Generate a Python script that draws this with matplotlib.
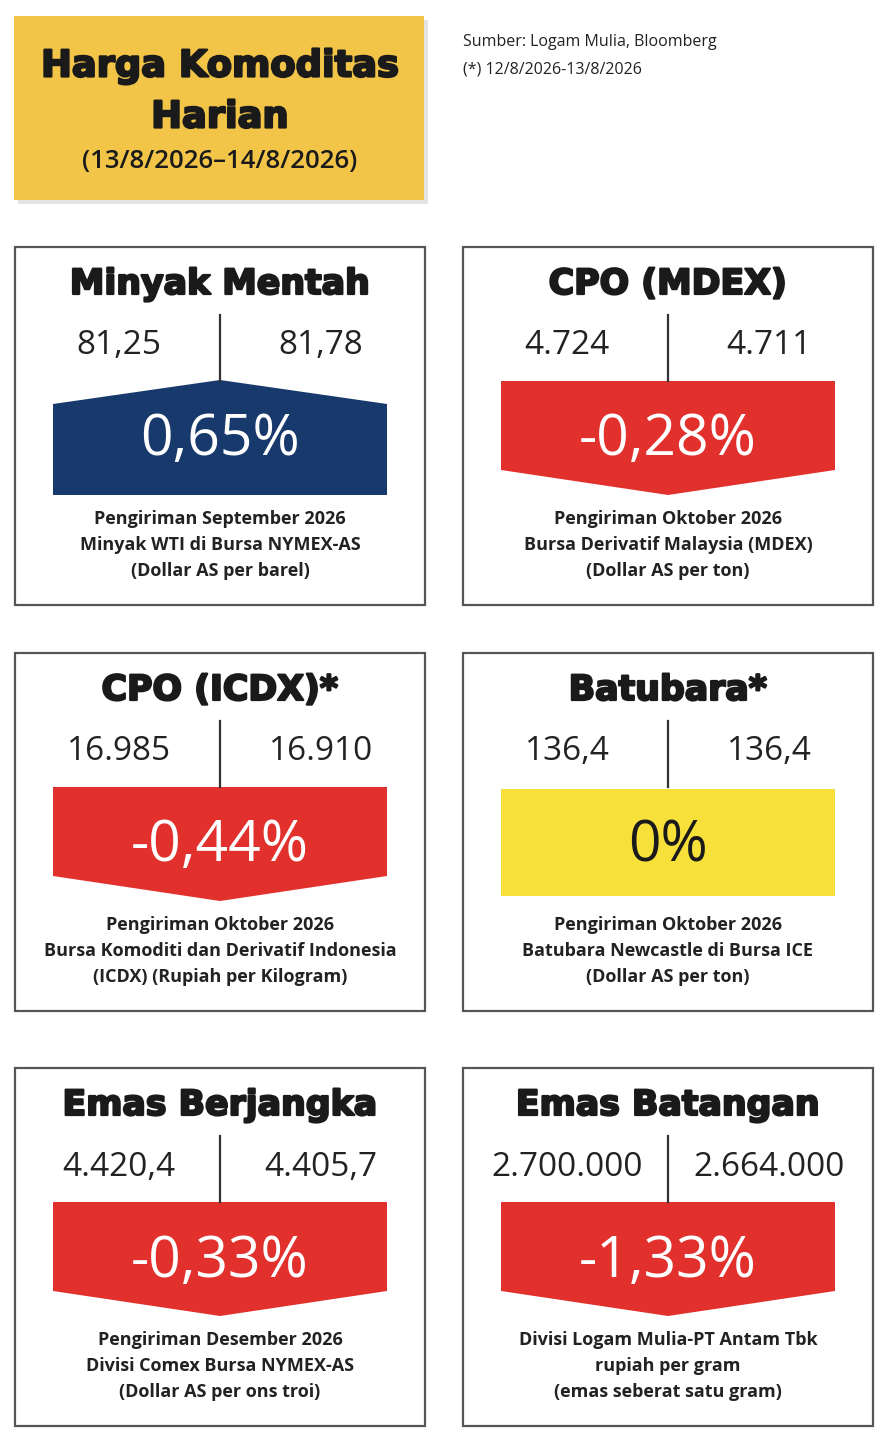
import matplotlib
matplotlib.use("Agg")
import matplotlib.pyplot as plt
import matplotlib.patches as mpatches
import matplotlib.patheffects as pe

# ===== data =====
names = ["Minyak Mentah", "CPO (MDEX)", "CPO (ICDX)*",
         "Batubara*", "Emas Berjangka", "Emas Batangan"]
prev_prices = [81.25, 4724, 16985, 136.4, 4420.4, 2700000]
last_prices = [81.78, 4711, 16910, 136.4, 4405.7, 2664000]
price_decimals = [2, 0, 0, 1, 1, 0]
change_pct = [0.65, -0.28, -0.44, 0.0, -0.33, -1.33]
notes = [
    "Pengiriman September 2026\nMinyak WTI di Bursa NYMEX-AS\n(Dollar AS per barel)",
    "Pengiriman Oktober 2026\nBursa Derivatif Malaysia (MDEX)\n(Dollar AS per ton)",
    "Pengiriman Oktober 2026\nBursa Komoditi dan Derivatif Indonesia\n(ICDX) (Rupiah per Kilogram)",
    "Pengiriman Oktober 2026\nBatubara Newcastle di Bursa ICE\n(Dollar AS per ton)",
    "Pengiriman Desember 2026\nDivisi Comex Bursa NYMEX-AS\n(Dollar AS per ons troi)",
    "Divisi Logam Mulia-PT Antam Tbk\nrupiah per gram\n(emas seberat satu gram)",
]
title_lines = ["Harga Komoditas", "Harian", "(13/8/2026\u201314/8/2026)"]
source_lines = ["Sumber: Logam Mulia, Bloomberg", "(*) 12/8/2026-13/8/2026"]

# ===== style =====
NAVY = "#17396b"
RED = "#e2302d"
YELLOW = "#f8e03a"
GOLD = "#f2c548"
INK = "#1a1a1a"
HEAVY = ["DejaVu Sans"]
PLAIN = ["Open Sans", "DejaVu Sans"]
thick = [pe.withStroke(linewidth=1.6, foreground=INK)]

W, H = 886, 1444
col_x = [15, 463]
row_y = [247, 653, 1068]
box_w, box_h = 410, 358


def fmt_id(v, d):
    s = f"{v:,.{d}f}"
    return s.replace(",", "#").replace(".", ",").replace("#", ".")


def fmt_pct(v):
    if v == 0:
        return "0%"
    return f"{v:.2f}".replace(".", ",") + "%"


fig = plt.figure(figsize=(W / 100, H / 100), dpi=100)
ax = fig.add_axes([0, 0, 1, 1])
ax.set_xlim(0, W)
ax.set_ylim(H, 0)
ax.axis("off")

# --- header box ---
ax.add_patch(mpatches.Rectangle((18, 20), 410, 184, facecolor="#c8c8c8",
                                edgecolor="none", alpha=0.5, zorder=1))
ax.add_patch(mpatches.Rectangle((14, 16), 410, 184, facecolor=GOLD,
                                edgecolor="none", zorder=2))
for k, yy in enumerate([66, 117]):
    ax.text(220, yy, title_lines[k], ha="center", va="center", fontsize=26.5,
            fontweight="bold", family=HEAVY, color=INK, zorder=3,
            path_effects=thick)
ax.text(220, 161, title_lines[2], ha="center", va="center", fontsize=18.5,
        fontweight="semibold", family=PLAIN, color=INK, zorder=3)
for i, line in enumerate(source_lines):
    ax.text(463, 42 + i * 27, line, ha="left", va="center", fontsize=11.5,
            family=PLAIN, color="#222222")

# --- panels ---
for i, name in enumerate(names):
    x0 = col_x[i % 2]
    y0 = row_y[i // 2]
    cx = x0 + box_w / 2
    ax.add_patch(mpatches.Rectangle((x0, y0), box_w, box_h, facecolor="white",
                                    edgecolor="#555555", linewidth=1.6))
    ax.text(cx, y0 + 37, name, ha="center", va="center", fontsize=25,
            fontweight="bold", family=HEAVY, color=INK, path_effects=thick)
    ax.text(cx - 101, y0 + 99, fmt_id(prev_prices[i], price_decimals[i]),
            ha="center", va="center", fontsize=24, family=PLAIN, color="#222222")
    ax.text(cx + 101, y0 + 99, fmt_id(last_prices[i], price_decimals[i]),
            ha="center", va="center", fontsize=24, family=PLAIN, color="#222222")
    ax.plot([cx, cx], [y0 + 68, y0 + 134], color="#333333", linewidth=1.6)

    left, right = cx - 167, cx + 167
    chg = change_pct[i]
    if chg > 0:
        pts = [(left, y0 + 157), (cx, y0 + 133), (right, y0 + 157),
               (right, y0 + 248), (left, y0 + 248)]
        fc, tc = NAVY, "white"
    elif chg < 0:
        pts = [(left, y0 + 134), (right, y0 + 134), (right, y0 + 223),
               (cx, y0 + 248), (left, y0 + 223)]
        fc, tc = RED, "white"
    else:
        pts = [(left, y0 + 136), (right, y0 + 136), (right, y0 + 243),
               (left, y0 + 243)]
        fc, tc = YELLOW, INK
    ax.add_patch(mpatches.Polygon(pts, closed=True, facecolor=fc,
                                  edgecolor="none"))
    ax.text(cx, y0 + 194, fmt_pct(chg), ha="center", va="center",
            fontsize=41, family=PLAIN, color=tc)

    for j, line in enumerate(notes[i].split("\n")):
        ax.text(cx, y0 + 272 + j * 26, line, ha="center", va="center",
                fontsize=13, fontweight="bold", family=PLAIN,
                color="#222222")

fig.savefig("out.png", dpi=100)
